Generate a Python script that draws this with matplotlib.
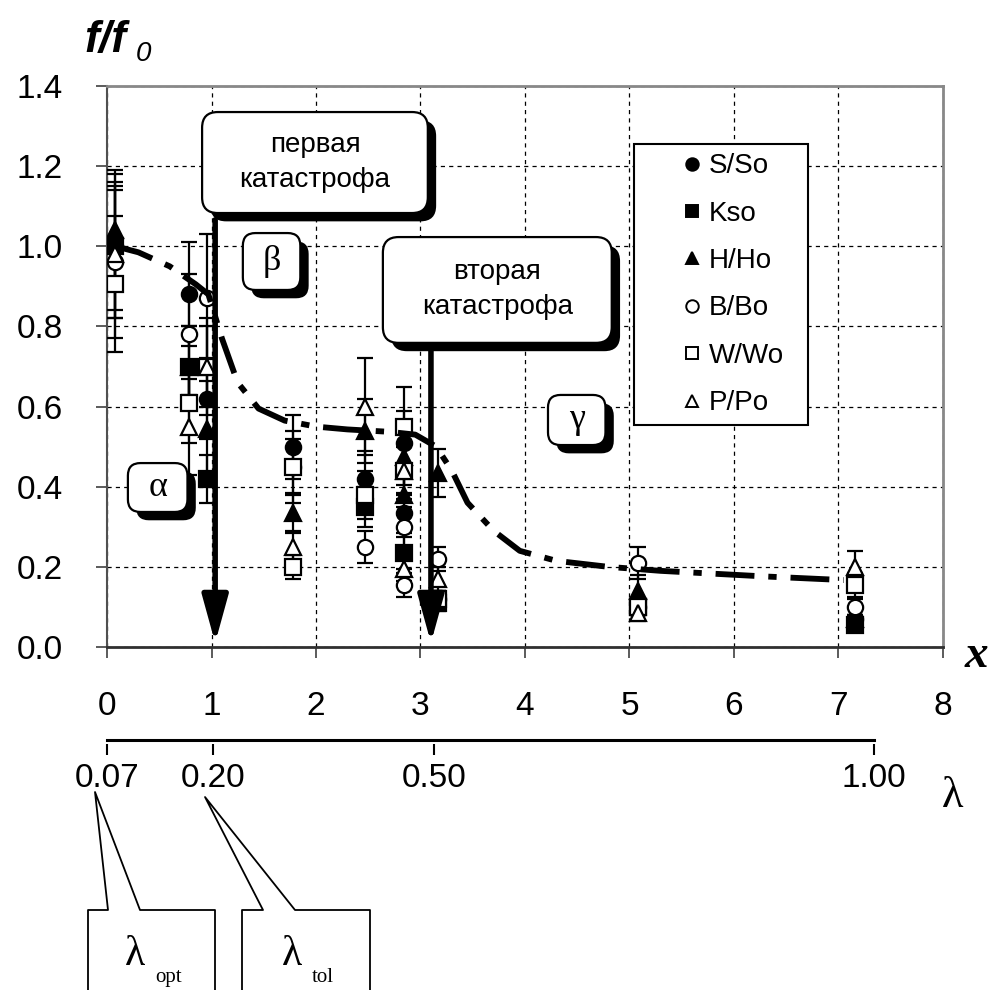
import matplotlib
matplotlib.use('Agg')
import matplotlib.pyplot as plt
from matplotlib.patches import FancyBboxPatch, Rectangle
from matplotlib.lines import Line2D
import matplotlib.patheffects as pe

plt.rcParams['font.family'] = ['Liberation Sans', 'DejaVu Sans']
plt.rcParams['lines.scale_dashes'] = False

# ---------------- data ----------------
x_ticks = [0, 1, 2, 3, 4, 5, 6, 7, 8]
y_ticks = [0.0, 0.2, 0.4, 0.6, 0.8, 1.0, 1.2, 1.4]

lam_labels = ['0.07', '0.20', '0.50', '1.00']
lam_pos = [-0.07, 0.95, 3.09, 7.33]      # position of lambda values on x scale

S_x = [0.08, 0.78, 0.96, 1.78, 2.47, 2.84, 2.84, 3.17, 5.08, 7.16]
S_y = [1.00, 0.88, 0.62, 0.50, 0.42, 0.51, 0.335, 0.12, 0.10, 0.07]
S_e = [0.16, 0.13, 0.10, 0.08, 0.07, 0.08, 0.05, 0.02, 0.02, 0.01]

K_x = [0.08, 0.78, 0.96, 2.47, 2.84, 3.17, 5.08, 7.16]
K_y = [1.00, 0.70, 0.42, 0.35, 0.235, 0.11, 0.10, 0.055]
K_e = [0.18, 0.10, 0.06, 0.05, 0.04, 0.02, 0.02, 0.01]

H_x = [0.08, 0.78, 0.96, 1.78, 2.47, 2.84, 2.84, 3.17, 5.08, 7.16]
H_y = [1.04, 0.70, 0.545, 0.335, 0.54, 0.475, 0.38, 0.435, 0.14, 0.07]
H_e = [0.15, 0.10, 0.12, 0.05, 0.08, 0.07, 0.05, 0.06, 0.04, 0.01]

B_x = [0.08, 0.78, 0.96, 1.78, 2.47, 2.84, 2.84, 3.17, 5.08, 7.16]
B_y = [0.96, 0.78, 0.87, 0.45, 0.25, 0.30, 0.155, 0.22, 0.21, 0.10]
B_e = [0.19, 0.15, 0.16, 0.09, 0.04, 0.05, 0.03, 0.03, 0.04, 0.02]

W_x = [0.08, 0.78, 0.96, 1.78, 1.78, 2.47, 2.84, 2.84, 3.17, 5.08, 7.16]
W_y = [0.905, 0.61, 0.70, 0.45, 0.20, 0.38, 0.55, 0.44, 0.12, 0.10, 0.155]
W_e = [0.17, 0.10, 0.12, 0.07, 0.03, 0.06, 0.10, 0.06, 0.02, 0.02, 0.03]

P_x = [0.08, 0.78, 0.96, 1.78, 2.47, 2.84, 2.84, 3.17, 5.08, 7.16]
P_y = [0.98, 0.55, 0.70, 0.25, 0.60, 0.44, 0.195, 0.17, 0.085, 0.20]
P_e = [0.16, 0.12, 0.10, 0.04, 0.12, 0.07, 0.03, 0.03, 0.02, 0.04]

trend_x = [0.08, 0.3, 0.6, 0.85, 0.97, 1.1, 1.25, 1.45, 1.7, 2.0, 2.3, 2.7,
           2.95, 3.15, 3.3, 3.45, 3.7, 3.95, 4.3, 4.8, 5.3, 5.8, 6.3, 6.8, 7.05]
trend_y = [1.0, 0.985, 0.95, 0.905, 0.88, 0.77, 0.66, 0.595, 0.565, 0.55, 0.543,
           0.537, 0.53, 0.5, 0.44, 0.36, 0.29, 0.24, 0.215, 0.2, 0.19, 0.183,
           0.176, 0.17, 0.167]

arrow_x = [1.035, 3.10]
arrow_top = [1.066, 0.76]
arrow_bottom = 0.01

# ---------------- figure ----------------
W, H = 994, 990
fig = plt.figure(figsize=(W / 100, H / 100), dpi=100)
ax = fig.add_axes([107 / W, 1 - 647 / H, (943 - 107) / W, (647 - 86) / H])
ax.set_xlim(0, 8)
ax.set_ylim(0, 1.4)
ax.set_xticks(x_ticks)
ax.set_yticks(y_ticks)
ax.set_xticklabels([str(v) for v in x_ticks])
ax.set_yticklabels([f'{v:.1f}' for v in y_ticks])
ax.tick_params(axis='x', direction='out', length=8, width=1.2, color='#404040',
               labelsize=24, pad=24)
ax.tick_params(axis='y', direction='out', length=8, width=1.2, color='#404040',
               labelsize=24, pad=24)
ax.grid(True, color='k', linestyle=(0, (3, 3)), lw=0.9)
ax.set_axisbelow(True)
for s in ['top', 'right']:
    ax.spines[s].set_color('#888888')
    ax.spines[s].set_linewidth(2)
ax.spines['left'].set_color('#505050')
ax.spines['left'].set_linewidth(1.5)
ax.spines['bottom'].set_color('#303030')
ax.spines['bottom'].set_linewidth(2)

series = [
    ('S/So', S_x, S_y, S_e, 'o', 'k'),
    ('Kso', K_x, K_y, K_e, 's', 'k'),
    ('H/Ho', H_x, H_y, H_e, '^', 'k'),
    ('B/Bo', B_x, B_y, B_e, 'o', 'white'),
    ('W/Wo', W_x, W_y, W_e, 's', 'white'),
    ('P/Po', P_x, P_y, P_e, '^', 'white'),
]
handles = []
for name, xs, ys, es, m, fc in series:
    ax.errorbar(xs, ys, yerr=es, fmt=m, ms=11, mfc=fc, mec='k', mew=1.6,
                ecolor='k', elinewidth=1.6, capsize=6, capthick=1.6,
                color='k', ls='none', zorder=3)
    handles.append(Line2D([], [], marker=m, ls='none', ms=9, mfc=fc, mec='k',
                          mew=1.4, color='k'))

ax.plot(trend_x, trend_y, color='k', lw=4.2, dashes=(28, 10, 6, 10), zorder=4,
        solid_capstyle='butt', dash_capstyle='butt')

for xa, ta in zip(arrow_x, arrow_top):
    ax.annotate('', xy=(xa, arrow_bottom), xytext=(xa, ta),
                arrowprops=dict(arrowstyle='-|>,head_length=0.8,head_width=0.22',
                                mutation_scale=36, lw=4, color='k',
                                shrinkA=0, shrinkB=0), zorder=5)

# ---------------- boxes ----------------
aspect = (1.4 / (647 - 86)) / (8 / (943 - 107))


def rbox(x0, y0, x1, y1, text, fs, family, rs=0.15, shadow=6):
    p = FancyBboxPatch((x0, y0), x1 - x0, y1 - y0,
                       boxstyle=f'round,pad=0,rounding_size={rs}',
                       mutation_aspect=aspect, fc='white', ec='k', lw=1.6,
                       zorder=6)
    p.set_path_effects([pe.SimplePatchShadow(offset=(shadow, -shadow),
                                             shadow_rgbFace='k', alpha=1),
                        pe.Normal()])
    ax.add_patch(p)
    ax.text((x0 + x1) / 2, (y0 + y1) / 2, text, ha='center', va='center',
            fontsize=fs, family=family, zorder=7, linespacing=1.45)


rbox(0.91, 1.083, 3.07, 1.335, 'первая\nкатастрофа', 20, ['Liberation Sans'])
rbox(2.64, 0.759, 4.83, 1.023, 'вторая\nкатастрофа', 20, ['Liberation Sans'])
rbox(1.30, 0.891, 1.85, 1.033, 'β', 26, ['Liberation Serif'], rs=0.12)
rbox(0.20, 0.337, 0.77, 0.459, 'α', 26, ['Liberation Serif'], rs=0.12)
rbox(4.22, 0.504, 4.77, 0.629, 'γ', 26, ['Liberation Serif'], rs=0.12)

# legend
ax.add_patch(Rectangle((5.04, 0.554), 6.71 - 5.04, 1.255 - 0.554, fc='white',
                       ec='k', lw=1.5, zorder=6))
leg = ax.legend(handles, [s[0] for s in series], loc='upper left',
                bbox_to_anchor=(5.49, 1.232), bbox_transform=ax.transData,
                frameon=False, fontsize=20, handlelength=0.8,
                handletextpad=0.2, labelspacing=0.77, borderpad=0,
                borderaxespad=0)
leg.set_zorder(8)

# ---------------- lambda axis ----------------
ax2 = fig.add_axes([107 / W, 1 - 744 / H, (943 - 107) / W, 40 / H])
ax2.set_xlim(0, 8)
ax2.set_ylim(0, 1)
ax2.patch.set_visible(False)
for s in ['top', 'right', 'left', 'bottom']:
    ax2.spines[s].set_visible(False)
ax2.set_yticks([])
ax2.set_xticks(lam_pos)
ax2.set_xticklabels(lam_labels)
ax2.tick_params(axis='x', direction='out', length=8, width=1.5, color='k',
                labelsize=24, pad=6)
ax2.plot([lam_pos[0], lam_pos[-1]], [0.1, 0.1], color='k', lw=2.2,
         clip_on=False)


def fx(px):
    return px / W


def fy(py):
    return 1 - py / H


# axis titles
fig.text(fx(84), fy(52), 'f/f', fontsize=32, style='italic', weight='bold',
         va='baseline')
fig.text(fx(136), fy(61), '0', fontsize=20, style='italic', va='baseline')
fig.text(fx(965), fy(667), 'x', fontsize=34, style='italic', weight='bold',
         family='Liberation Serif', va='baseline')
fig.text(fx(942), fy(807), 'λ', fontsize=32, family='Liberation Serif',
         va='baseline')

# callouts at the bottom
callouts = [
    ((88, 215), (108, 140), (95, 792), 'λ', 'opt', (125, 965), (155, 982)),
    ((242, 370), (263, 295), (205, 797), 'λ', 'tol', (282, 965), (312, 982)),
]
for (l, r), (w0, w1), (ax_, ay_), t, sub, tp, sp in callouts:
    xs = [l, l, w0, ax_, w1, r, r]
    ys = [1000, 910, 910, ay_, 910, 910, 1000]
    fig.add_artist(Line2D([fx(v) for v in xs], [fy(v) for v in ys],
                          color='k', lw=1.3, transform=fig.transFigure))
    fig.text(fx(tp[0]), fy(tp[1]), t, fontsize=30, family='Liberation Serif',
             va='baseline')
    fig.text(fx(sp[0]), fy(sp[1]), sub, fontsize=15,
             family='Liberation Serif', va='baseline')

fig.savefig('out.png', dpi=100)
